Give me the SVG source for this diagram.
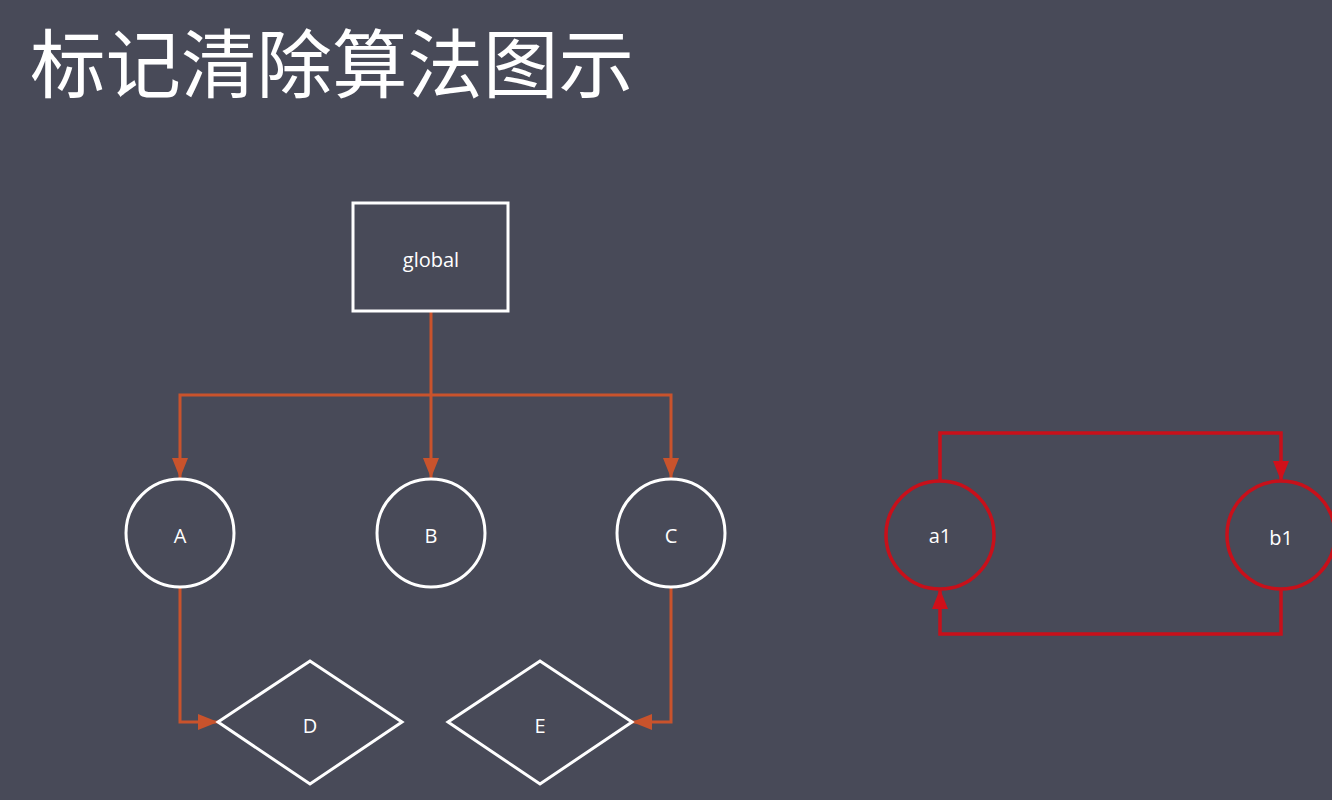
<svg xmlns="http://www.w3.org/2000/svg" width="1332" height="800" viewBox="0 0 1332 800">
<style>
.node{fill:none;stroke:#ffffff;stroke-width:3}
.red{fill:none;stroke:#c8101a;stroke-width:3.5}
.lbl{fill:#ffffff;font-family:"Open Sans","Noto Sans",sans-serif;font-size:20px;text-anchor:middle;dominant-baseline:central}
.edge{fill:none;stroke:#c9532c;stroke-width:3}
.redge{fill:none;stroke:#c8101a;stroke-width:3.5}
</style>
<defs>
<marker id="arr" viewBox="0 0 20 16" refX="20" refY="8" markerWidth="20" markerHeight="16" markerUnits="userSpaceOnUse" orient="auto">
<path d="M0,0 L20,8 L0,16 Z" fill="#c9532c"/>
</marker>
<marker id="rarr" viewBox="0 0 20 16" refX="20" refY="8" markerWidth="20" markerHeight="16" markerUnits="userSpaceOnUse" orient="auto">
<path d="M0,0 L20,8 L0,16 Z" fill="#d0101a"/>
</marker>
</defs>
<rect width="1332" height="800" fill="#484a58"/>
<text x="30" y="92" fill="#ffffff" font-family="Noto Sans CJK SC,sans-serif" font-size="75.5">标记清除算法图示</text>
<g id="connectors">
<path class="edge" d="M431,311 V478" marker-end="url(#arr)"/>
<path class="edge" d="M431,395 H180 V478" marker-end="url(#arr)"/>
<path class="edge" d="M431,395 H671 V478" marker-end="url(#arr)"/>
<path class="edge" d="M180,587 V722 H218" marker-end="url(#arr)"/>
<path class="edge" d="M671,587 V722 H632" marker-end="url(#arr)"/>
<path class="redge" d="M940,481 V433 H1281 V481" marker-end="url(#rarr)"/>
<path class="redge" d="M1281,589 V634 H940 V589" marker-end="url(#rarr)"/>
</g>
<g id="global"><rect class="node" x="353" y="203" width="155" height="108"/><text class="lbl" x="431" y="259">global</text></g>
<g id="A"><circle class="node" cx="180" cy="533" r="54"/><text class="lbl" x="180" y="535" font-size="19">A</text></g>
<g id="B"><circle class="node" cx="431" cy="533" r="54"/><text class="lbl" x="431" y="535" font-size="19">B</text></g>
<g id="C"><circle class="node" cx="671" cy="533" r="54"/><text class="lbl" x="671" y="535" font-size="19">C</text></g>
<g id="D"><polygon class="node" points="218,722 310,661 402,722 310,784"/><text class="lbl" x="310" y="725" font-size="19">D</text></g>
<g id="E"><polygon class="node" points="448,722 540,661 632,722 540,784"/><text class="lbl" x="540" y="725" font-size="19">E</text></g>
<g id="a1"><circle class="red" cx="940" cy="535" r="54"/><text class="lbl" x="940" y="535">a1</text></g>
<g id="b1"><circle class="red" cx="1281" cy="535" r="54"/><text class="lbl" x="1281" y="537">b1</text></g>
</svg>
